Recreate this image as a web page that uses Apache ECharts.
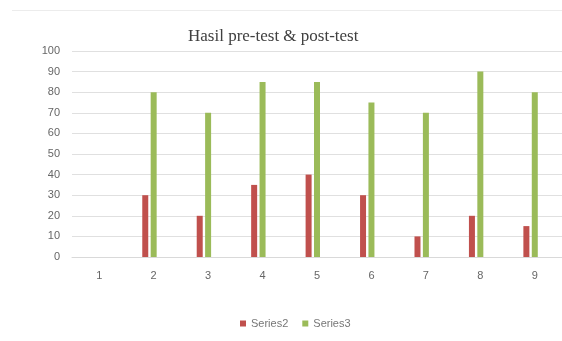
<!DOCTYPE html>
<html>
<head>
<meta charset="utf-8">
<script src="https://cdn.jsdelivr.net/npm/echarts@6/dist/echarts.min.js"></script>
<style>
  html, body { margin: 0; padding: 0; background: #fff; }
  #chart { width: 562px; height: 341px; }
</style>
</head>
<body>
<div id="chart"></div>
<script>
// data
const categories = ["1", "2", "3", "4", "5", "6", "7", "8", "9"]
const series2 = [0, 30, 20, 35, 40, 30, 10, 20, 15]
const series3 = [0, 80, 70, 85, 85, 75, 70, 90, 80]
// empty third slot so the red/green pair sits left of the tick, like the original
const spacer = [null, null, null, null, null, null, null, null, null]

const chart = echarts.init(document.getElementById("chart"))

const option = {
  animation: false,
  title: {
    text: "Hasil pre-test & post-test",
    left: 183,
    top: 23,
    textStyle: {
      fontFamily: "Liberation Serif",
      fontSize: 17,
      fontWeight: "normal",
      color: "#404040",
    },
  },
  grid: {
    left: 72,
    right: -5,
    top: 51,
    bottom: 84,
  },
  legend: {
    data: ["Series2", "Series3"],
    left: 235,
    top: 313,
    icon: "rect",
    itemWidth: 6,
    itemHeight: 6,
    itemGap: 14,
    textStyle: { fontSize: 11, color: "#777", fontFamily: "Liberation Sans" },
  },
  xAxis: {
    type: "category",
    data: categories,
    axisLine: { show: true, lineStyle: { color: "#d9d9d9" } },
    axisTick: { show: false },
    axisLabel: { color: "#666", fontSize: 11, margin: 13, fontFamily: "Liberation Sans" },
  },
  yAxis: {
    type: "value",
    min: 0,
    max: 100,
    interval: 10,
    axisLine: { show: false },
    axisTick: { show: false },
    axisLabel: { color: "#666", fontSize: 11, margin: 12, fontFamily: "Liberation Sans" },
    splitLine: { lineStyle: { color: "#e0e0e0" } },
  },
  series: [
    {
      name: "Series2",
      type: "bar",
      barWidth: 6,
      barGap: "40%",
      itemStyle: { color: "#C0504D" },
      data: series2,
    },
    {
      name: "Series3",
      type: "bar",
      barWidth: 6,
      itemStyle: { color: "#9BBB59" },
      data: series3,
    },
    {
      name: "",
      type: "bar",
      barWidth: 6,
      silent: true,
      data: spacer,
    },
  ],
  graphic: [
    {
      type: "line",
      shape: { x1: 12, y1: 10.5, x2: 562, y2: 10.5 },
      style: { stroke: "#ececec", lineWidth: 1 },
    },
  ],
}

chart.setOption(option)
</script>
</body>
</html>
